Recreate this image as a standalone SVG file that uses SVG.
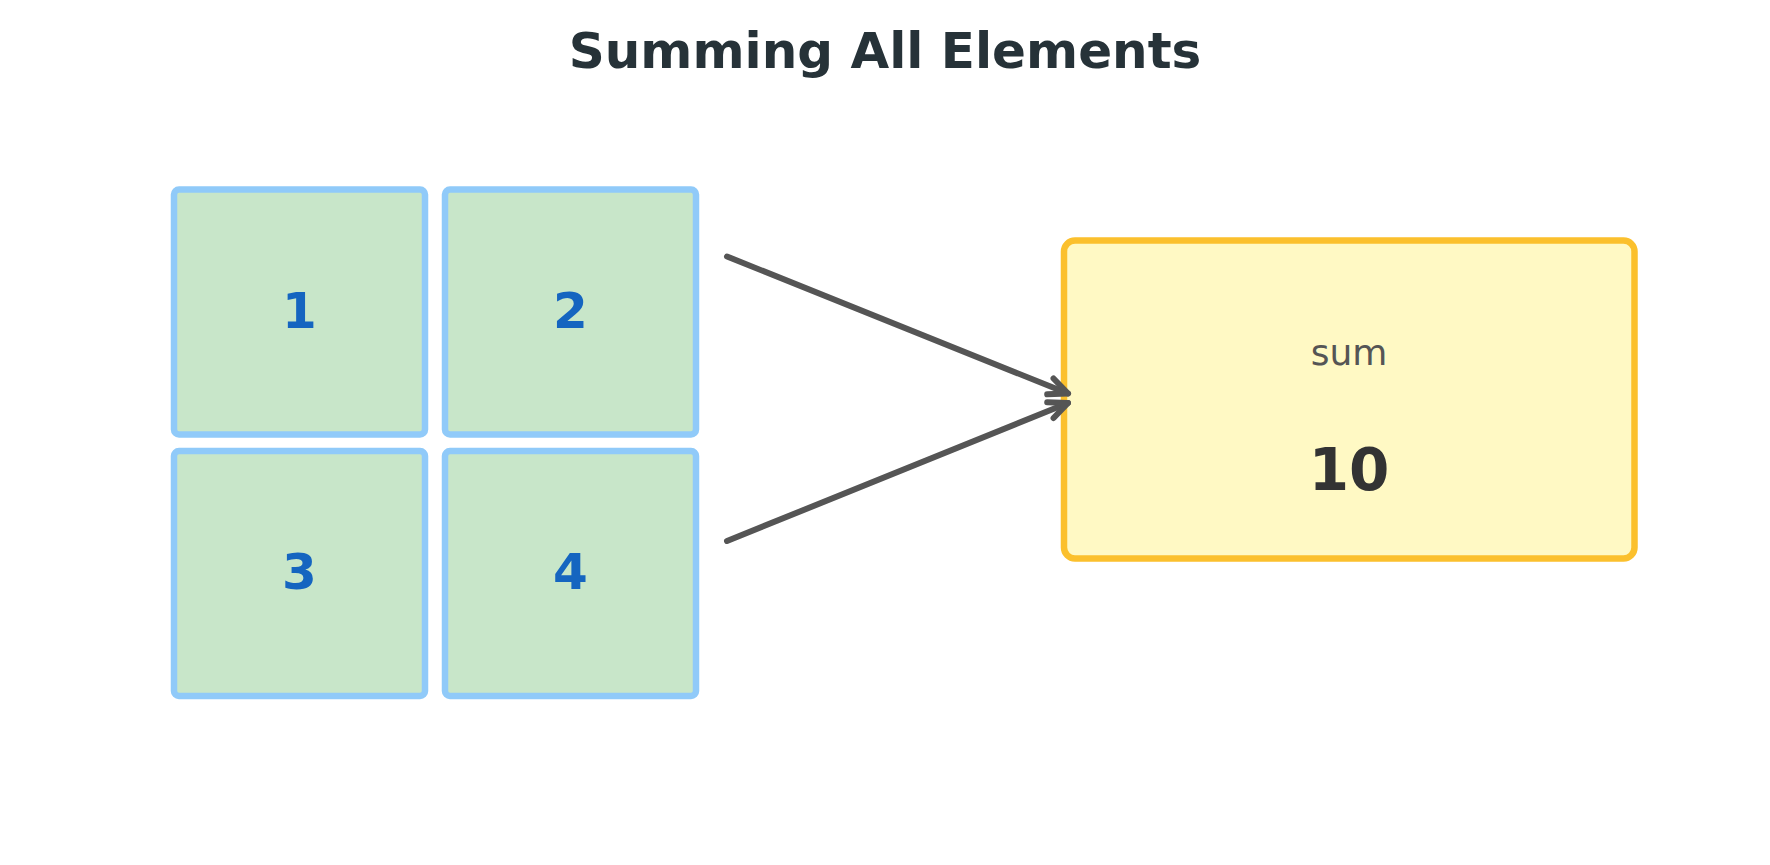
<svg xmlns="http://www.w3.org/2000/svg" width="1770" height="865" viewBox="0 0 1770 865">
<defs>
<style>
.cell{fill:#C8E6C9;stroke:#90CAF9;stroke-width:6.5}
.num{font-family:"DejaVu Sans",sans-serif;font-weight:bold;font-size:50px;fill:#1565C0;text-anchor:middle}
.conn{fill:none;stroke:#555555;stroke-width:6;stroke-linecap:round;stroke-linejoin:round}
</style>
<marker id="head" markerUnits="userSpaceOnUse" orient="auto" refX="0" refY="0" markerWidth="40" markerHeight="40" viewBox="-30 -20 40 40" overflow="visible">
<path d="M-19,-8.5 L0,0 L-19,8.5" fill="none" stroke="#555555" stroke-width="6" stroke-linecap="round" stroke-linejoin="round"/>
</marker>
</defs>
<rect width="1770" height="865" fill="#ffffff"/>
<text x="885" y="68" font-family="DejaVu Sans, sans-serif" font-weight="bold" font-size="50" fill="#263238" text-anchor="middle">Summing All Elements</text>
<g id="cell-1"><rect class="cell" x="174" y="189.5" width="251" height="245" rx="5"/><text class="num" x="299.5" y="327.5">1</text></g>
<g id="cell-2"><rect class="cell" x="445" y="189.5" width="251" height="245" rx="5"/><text class="num" x="570.5" y="327.5">2</text></g>
<g id="cell-3"><rect class="cell" x="174" y="451" width="251" height="245" rx="5"/><text class="num" x="299.5" y="589">3</text></g>
<g id="cell-4"><rect class="cell" x="445" y="451" width="251" height="245" rx="5"/><text class="num" x="570.5" y="589">4</text></g>
<g id="sum"><rect x="1064" y="240.5" width="570.5" height="318" rx="11" fill="#FFF9C4" stroke="#FBC02D" stroke-width="6.5"/>
<text x="1349" y="365" font-family="DejaVu Sans, sans-serif" font-size="36" fill="#555555" text-anchor="middle">sum</text>
<text x="1349" y="490" font-family="DejaVu Sans, sans-serif" font-weight="bold" font-size="58" fill="#333333" text-anchor="middle">10</text></g>
<g id="connectors">
<line class="conn" x1="727" y1="256.5" x2="1068" y2="393.5" marker-end="url(#head)"/>
<line class="conn" x1="727" y1="541" x2="1068" y2="403" marker-end="url(#head)"/>
</g>
</svg>
